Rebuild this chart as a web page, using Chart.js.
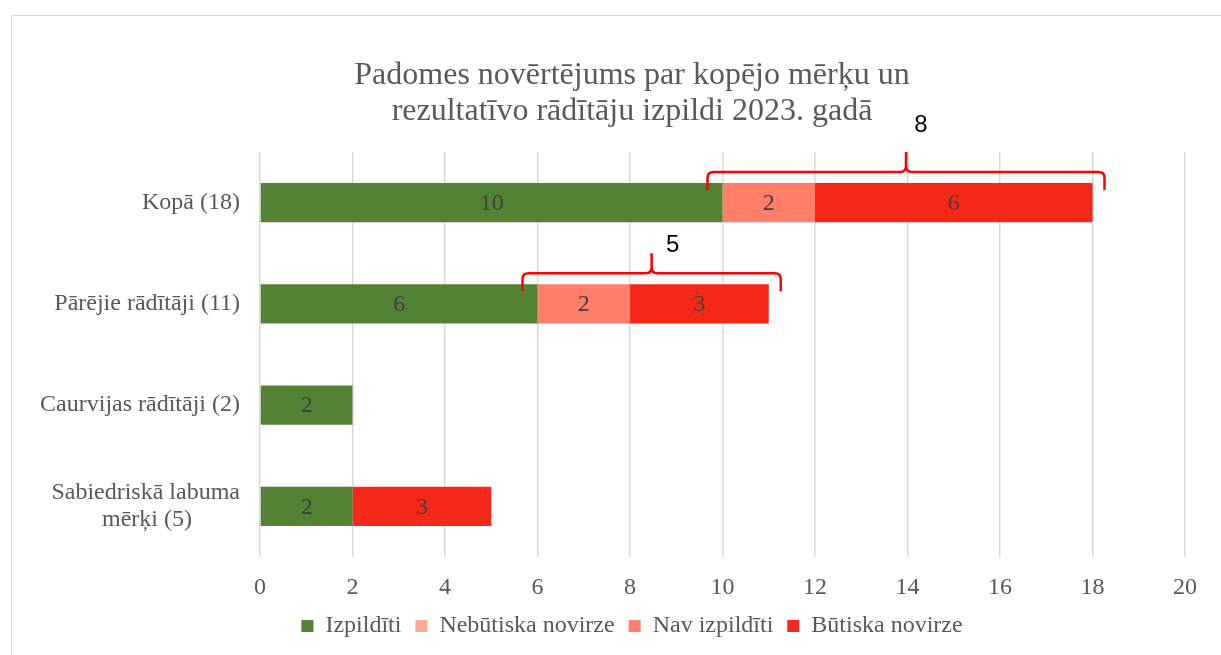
<!DOCTYPE html>
<html>
<head>
<meta charset="utf-8">
<script src="https://cdn.jsdelivr.net/npm/chart.js@4"></script>
<style>
  html, body { margin: 0; padding: 0; background: #fff; overflow: hidden; }
  #frame { position: absolute; left: 11px; top: 15px; width: 1250px; height: 700px; border: 1px solid #d9d9d9; }
  #wrap { position: absolute; left: 0; top: 0; width: 1220px; height: 640px; }
</style>
</head>
<body>
<div id="frame"><div id="wrap"><canvas id="chart"></canvas></div></div>
<script>
// data
var categories = ["Kopā (18)", "Pārējie rādītāji (11)", "Caurvijas rādītāji (2)", ["Sabiedriskā labuma", "mērķi (5)        "]];
var izpilditi = [10, 6, 2, 2];
var nebutiska = [0, 0, 0, 0];
var navIzpilditi = [2, 2, 0, 0];
var butiska = [6, 3, 0, 3];
var xTicks = [0, 2, 4, 6, 8, 10, 12, 14, 16, 18, 20];
var bracketRows = [0, 1];
var bracketLabelDy = [-27, -8];
var bracketLabelDx = [15, 21];

var serif = "'Liberation Serif', 'Times New Roman', serif";
var textGrey = '#595959';

// values written in the middle of each segment
var segmentLabels = {
  id: 'segmentLabels',
  afterDatasetsDraw: function (chart) {
    var ctx = chart.ctx;
    ctx.save();
    ctx.font = '24px ' + serif;
    ctx.fillStyle = '#404040';
    ctx.textAlign = 'center';
    ctx.textBaseline = 'middle';
    chart.data.datasets.forEach(function (ds, di) {
      chart.getDatasetMeta(di).data.forEach(function (bar, i) {
        var v = ds.data[i];
        if (!v) return;
        var c = bar.getCenterPoint();
        ctx.fillText(String(v), c.x, c.y + 1);
      });
    });
    ctx.restore();
  }
};

// curly braces above the not-completed part
var braces = {
  id: 'braces',
  afterDraw: function (chart) {
    var ctx = chart.ctx;
    var xs = chart.scales.x;
    var meta = chart.getDatasetMeta(0);
    ctx.save();
    ctx.strokeStyle = '#ff0000';
    ctx.lineWidth = 2.5;
    bracketRows.forEach(function (row, k) {
      var start = izpilditi[row];
      var end = izpilditi[row] + nebutiska[row] + navIzpilditi[row] + butiska[row];
      var bar = meta.data[row];
      var top = bar.y - bar.height / 2;
      var x1 = xs.getPixelForValue(start) - 15;
      var x2 = xs.getPixelForValue(end) + 12;
      var xm = (x1 + x2) / 2;
      var y = top - 11;
      var r = 6;
      ctx.beginPath();
      ctx.moveTo(x1, y + 18);
      ctx.lineTo(x1, y + r);
      ctx.quadraticCurveTo(x1, y, x1 + r, y);
      ctx.lineTo(xm - r, y);
      ctx.quadraticCurveTo(xm, y, xm, y - r);
      ctx.lineTo(xm, y - 20);
      ctx.moveTo(xm, y - r);
      ctx.quadraticCurveTo(xm, y, xm + r, y);
      ctx.lineTo(x2 - r, y);
      ctx.quadraticCurveTo(x2, y, x2, y + r);
      ctx.lineTo(x2, y + 18);
      ctx.stroke();
      ctx.fillStyle = '#000';
      ctx.font = "24px 'Liberation Sans', Arial, sans-serif";
      ctx.textAlign = 'center';
      ctx.textBaseline = 'middle';
      ctx.fillText(String(end - start), xm + bracketLabelDx[k], y - 20 + bracketLabelDy[k]);
    });
    ctx.restore();
  }
};

var ctx = document.getElementById('chart').getContext('2d');
var chart = new Chart(ctx, {
  type: 'bar',
  data: {
    labels: categories,
    datasets: [
      { label: 'Izpildīti', data: izpilditi, backgroundColor: '#548235' },
      { label: 'Nebūtiska novirze', data: nebutiska, backgroundColor: '#fbaa9a' },
      { label: 'Nav izpildīti', data: navIzpilditi, backgroundColor: '#ff7f6b' },
      { label: 'Būtiska novirze', data: butiska, backgroundColor: '#f5281a' }
    ]
  },
  options: {
    indexAxis: 'y',
    responsive: true,
    maintainAspectRatio: false,
    animation: false,
    barPercentage: 0.39,
    categoryPercentage: 1,
    layout: { padding: { left: 20, right: 0, top: 30, bottom: 8 } },
    scales: {
      x: {
        stacked: true,
        min: 0,
        max: 20,
        afterBuildTicks: function (s) { s.ticks = xTicks.map(function (v) { return { value: v }; }); },
        afterFit: function (s) { s.height = 43; },
        grid: { color: '#d9d9d9', lineWidth: 1.5, drawTicks: false },
        border: { display: false },
        ticks: { color: textGrey, font: { family: serif, size: 24 }, padding: 16 }
      },
      y: {
        stacked: true,
        afterFit: function (s) { s.width = 228; },
        grid: { display: false, drawTicks: false },
        border: { display: false },
        ticks: { color: textGrey, font: { family: serif, size: 24, lineHeight: 1.15 }, padding: 20 }
      },
      yR: {
        type: 'category',
        position: 'right',
        afterFit: function (s) { s.width = 47; },
        grid: { display: false, drawTicks: false },
        border: { display: false },
        ticks: { display: false }
      }
    },
    plugins: {
      title: {
        display: true,
        text: ['Padomes novērtējums par kopējo mērķu un', 'rezultatīvo rādītāju izpildi 2023. gadā'],
        color: textGrey,
        font: { family: serif, size: 32, weight: 'normal', lineHeight: 1.125 },
        padding: { top: 12, bottom: 22 }
      },
      legend: {
        position: 'bottom',
        labels: {
          color: textGrey,
          font: { family: serif, size: 24 },
          boxWidth: 12,
          boxHeight: 12,
          padding: 14
        }
      },
      tooltip: { enabled: false }
    }
  },
  plugins: [segmentLabels, braces]
});
</script>
</body>
</html>
